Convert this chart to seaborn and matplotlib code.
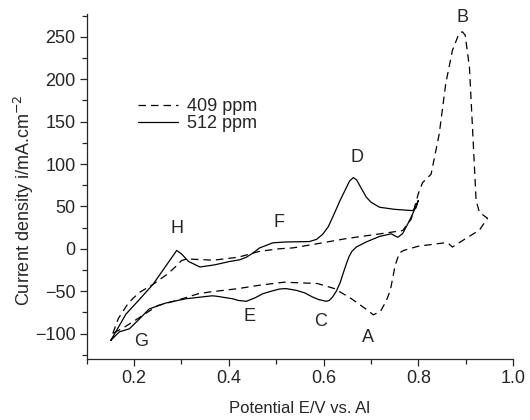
import matplotlib
matplotlib.use("Agg")
import matplotlib.pyplot as plt
import seaborn as sns
import pandas as pd
from matplotlib.ticker import MultipleLocator

# ---------- data ----------
# 409 ppm, dashed loop
E_409 = [0.155, 0.167, 0.188, 0.21, 0.24, 0.27, 0.29, 0.30, 0.311, 0.367, 0.42, 0.465,
         0.507, 0.535, 0.577, 0.648, 0.718, 0.767, 0.785, 0.80, 0.809, 0.827, 0.844,
         0.858, 0.872, 0.886, 0.893, 0.899, 0.908, 0.915, 0.922, 0.929, 0.946, 0.929,
         0.90, 0.872, 0.862, 0.855, 0.80, 0.769, 0.76, 0.751, 0.741, 0.732, 0.72,
         0.705, 0.694, 0.659, 0.623, 0.587, 0.516, 0.465, 0.42, 0.36, 0.336, 0.29,
         0.25, 0.209, 0.181, 0.155]
i_409 = [-100, -82, -64, -52, -42, -30, -20, -14, -12, -13.5, -10, -3,
         0, 1, 5, 12, 17.5, 21.5, 35, 65, 78, 88, 135,
         195, 234, 254, 256, 252, 214, 136, 57, 43, 36, 22,
         12, 2, 7, 7, 3, -2, -5, -20, -49, -62, -74,
         -78, -73, -59, -47, -41, -39.5, -43, -47, -51, -53, -61,
         -67, -82, -92, -100]

# 512 ppm, solid loop
E_512 = [0.151, 0.183, 0.211, 0.24, 0.27, 0.29, 0.30, 0.315, 0.339, 0.37, 0.402, 0.423,
         0.437, 0.451, 0.465, 0.493, 0.52, 0.57, 0.585, 0.598, 0.61, 0.619, 0.627,
         0.634, 0.641, 0.648, 0.655, 0.663, 0.67, 0.68, 0.69, 0.70, 0.718, 0.75,
         0.788, 0.795, 0.80,
         0.788, 0.778, 0.767, 0.757, 0.748, 0.743, 0.718, 0.69, 0.669, 0.66, 0.654,
         0.648, 0.642, 0.635, 0.627, 0.619, 0.612, 0.606, 0.59, 0.577, 0.56, 0.542,
         0.521, 0.507, 0.49, 0.472, 0.455, 0.437, 0.42, 0.408,
         0.374, 0.365, 0.309, 0.267, 0.232, 0.211, 0.19, 0.169, 0.151]
i_512 = [-108, -77, -60, -42, -18, -2, -6, -15, -21.5, -19, -15, -13,
         -10, -5, 1, 7, 8, 8.5, 11, 17, 26, 37, 47,
         56, 64, 72, 80, 84, 81, 71, 61, 55, 49, 46.5,
         45, 48, 57,
         41, 29.5, 18, 13.5, 16, 17.7, 14.5, 8, 2, -3, -9,
         -18, -28, -40, -50, -57, -61, -62, -60, -57, -52, -49,
         -47, -47.5, -50, -53, -58, -62, -61, -59,
         -56, -55.5, -59, -64, -71, -83, -94.5, -98, -108]

peak_names = ["A", "B", "C", "D", "E", "F", "G", "H"]
peak_E = [0.693, 0.893, 0.593, 0.670, 0.443, 0.505, 0.214, 0.291]
peak_i = [-105, 273, -85.5, 108, -80, 31, -109, 24]

df409 = pd.DataFrame({"E": E_409, "i": i_409})
df512 = pd.DataFrame({"E": E_512, "i": i_512})

# ---------- plot ----------
sns.set_style("ticks")
plt.rcParams["font.family"] = ["Liberation Sans", "DejaVu Sans"]
plt.rcParams["font.size"] = 13

fig = plt.figure(figsize=(5.3, 4.2), dpi=100)
ax = fig.add_axes([0.1636, 0.1464, 0.8044, 0.8203])

sns.lineplot(data=df409, x="E", y="i", sort=False, estimator=None, ax=ax,
             color="black", lw=0.9, linestyle=(0, (6, 4)), label="409 ppm")
sns.lineplot(data=df512, x="E", y="i", sort=False, estimator=None, ax=ax,
             color="black", lw=0.9, label="512 ppm")

for name, ex, iy in zip(peak_names, peak_E, peak_i):
    ax.text(ex, iy, name, ha="center", va="center", fontsize=13)

ax.set_xlim(0.1, 1.0)
ax.set_ylim(-129.5, 277)
ax.xaxis.set_major_locator(MultipleLocator(0.2))
ax.xaxis.set_minor_locator(MultipleLocator(0.1))
ax.yaxis.set_major_locator(MultipleLocator(50))
ax.yaxis.set_minor_locator(MultipleLocator(25))
ax.xaxis.set_major_formatter(plt.FuncFormatter(lambda v, p: f"{v:.1f}"))
ax.tick_params(which="major", direction="out", length=5, width=0.9, labelsize=13, pad=3)
ax.tick_params(which="minor", direction="out", length=3.5, width=0.9)
for s in ["left", "bottom"]:
    ax.spines[s].set_linewidth(0.9)
sns.despine(ax=ax)

ax.set_xlabel("Potential E/V vs. Al", fontsize=12, labelpad=10)
ax.set_ylabel("Current density i/mA.cm$^{-2}$", fontsize=13)
ax.yaxis.set_label_coords(-0.12, 0.46)

ax.legend(loc="center left", bbox_to_anchor=(0.12, 0.707), frameon=False,
          handlelength=2.2, handletextpad=0.5, labelspacing=0.0,
          borderpad=0, borderaxespad=0, fontsize=13)

fig.savefig("out.png", dpi=100)
